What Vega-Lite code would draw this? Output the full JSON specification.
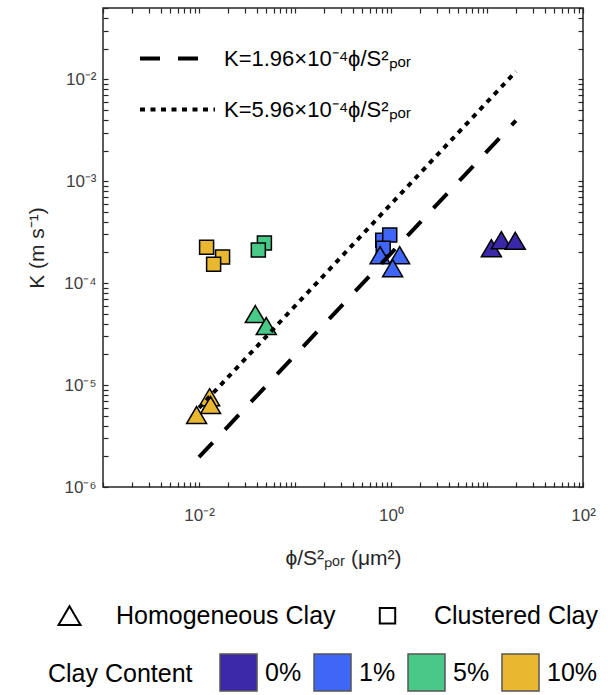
{
  "$schema": "https://vega.github.io/schema/vega-lite/v6.json",
  "width": 480,
  "height": 479,
  "autosize": "none",
  "padding": {"left": 103, "top": 8, "right": 25, "bottom": 208},
  "config": {
    "font": "Liberation Sans",
    "view": {"stroke": "#262626", "strokeWidth": 1.5},
    "axis": {
      "domain": false,
      "grid": false,
      "tickColor": "#262626",
      "tickWidth": 1.2,
      "tickSize": -5,
      "labelFont": "Liberation Sans",
      "labelFontSize": 17,
      "labelColor": "#404040",
      "labelOverlap": false,
      "labelFlush": false,
      "titleFont": "Liberation Sans",
      "titleFontSize": 21,
      "titleFontWeight": "normal",
      "titleColor": "#262626"
    },
    "legend": {
      "labelFont": "Liberation Sans",
      "titleFont": "Liberation Sans",
      "labelColor": "#000000",
      "titleColor": "#000000",
      "labelLimit": 500,
      "padding": 0
    }
  },
  "datasets": {
    "points": [
      {"x": 0.82, "y": 0.000264, "type": "Clustered Clay", "clay": "1%"},
      {"x": 0.97, "y": 0.000296, "type": "Clustered Clay", "clay": "1%"},
      {"x": 0.83, "y": 0.00022, "type": "Clustered Clay", "clay": "1%"},
      {"x": 0.048, "y": 0.000247, "type": "Clustered Clay", "clay": "5%"},
      {"x": 0.0415, "y": 0.000211, "type": "Clustered Clay", "clay": "5%"},
      {"x": 0.012, "y": 0.000225, "type": "Clustered Clay", "clay": "10%"},
      {"x": 0.0176, "y": 0.00018, "type": "Clustered Clay", "clay": "10%"},
      {"x": 0.0142, "y": 0.000153, "type": "Clustered Clay", "clay": "10%"},
      {"x": 11.1, "y": 0.00022, "type": "Homogeneous Clay", "clay": "0%"},
      {"x": 14.1, "y": 0.000264, "type": "Homogeneous Clay", "clay": "0%"},
      {"x": 19.7, "y": 0.00026, "type": "Homogeneous Clay", "clay": "0%"},
      {"x": 0.77, "y": 0.000188, "type": "Homogeneous Clay", "clay": "1%"},
      {"x": 1.23, "y": 0.000188, "type": "Homogeneous Clay", "clay": "1%"},
      {"x": 1.04, "y": 0.00014, "type": "Homogeneous Clay", "clay": "1%"},
      {"x": 0.0386, "y": 0.0000497, "type": "Homogeneous Clay", "clay": "5%"},
      {"x": 0.0502, "y": 0.0000379, "type": "Homogeneous Clay", "clay": "5%"},
      {"x": 0.0129, "y": 0.0000076, "type": "Homogeneous Clay", "clay": "10%"},
      {"x": 0.0132, "y": 0.00000637, "type": "Homogeneous Clay", "clay": "10%"},
      {"x": 0.00944, "y": 0.00000508, "type": "Homogeneous Clay", "clay": "10%"}
    ],
    "lines": [
      {"x": 0.01, "y": 0.00000196, "label": "K=1.96×10⁻⁴ϕ/S²ₚₒᵣ"},
      {"x": 20, "y": 0.00392, "label": "K=1.96×10⁻⁴ϕ/S²ₚₒᵣ"},
      {"x": 0.01, "y": 0.00000596, "label": "K=5.96×10⁻⁴ϕ/S²ₚₒᵣ"},
      {"x": 20, "y": 0.01192, "label": "K=5.96×10⁻⁴ϕ/S²ₚₒᵣ"}
    ]
  },
  "layer": [
    {
      "data": {"name": "points"},
      "mark": {"type": "point", "filled": true, "stroke": "black", "strokeWidth": 1.5, "opacity": 1, "size": 400},
      "encoding": {
        "x": {
          "field": "x", "type": "quantitative",
          "scale": {"type": "log", "domain": [0.001, 100], "nice": false, "zero": false},
          "axis": {
            "orient": "bottom",
            "title": "ϕ/S²ₚₒᵣ (μm²)",
            "titlePadding": 24,
            "values": [0.001,0.002,0.003,0.004,0.005,0.006,0.007,0.008,0.009,0.01,0.02,0.03,0.04,0.05,0.06,0.07,0.08,0.09,0.1,0.2,0.3,0.4,0.5,0.6,0.7,0.8,0.9,1,2,3,4,5,6,7,8,9,10,20,30,40,50,60,70,80,90,100],
            "labelPadding": 25,
            "labelExpr": "abs(log(datum.value)/LN10 - round(log(datum.value)/LN10)) < 1e-6 && round(log(datum.value)/LN10) % 2 == 0 ? (round(log(datum.value)/LN10) == -2 ? '10⁻²' : round(log(datum.value)/LN10) == 0 ? '10⁰' : '10²') : ''"
          }
        },
        "y": {
          "field": "y", "type": "quantitative",
          "scale": {"type": "log", "domain": [0.000001, 0.05], "nice": false, "zero": false},
          "axis": {
            "orient": "left",
            "title": "K (m s⁻¹)",
            "titlePadding": 16,
            "values": [0.000001,0.000002,0.000003,0.000004,0.000005,0.000006,0.000007,0.000008,0.000009,0.00001,0.00002,0.00003,0.00004,0.00005,0.00006,0.00007,0.00008,0.00009,0.0001,0.0002,0.0003,0.0004,0.0005,0.0006,0.0007,0.0008,0.0009,0.001,0.002,0.003,0.004,0.005,0.006,0.007,0.008,0.009,0.01,0.02,0.03,0.04,0.05],
            "labelPadding": 12,
            "labelExpr": "abs(log(datum.value)/LN10 - round(log(datum.value)/LN10)) < 1e-6 ? (round(log(datum.value)/LN10) == -6 ? '10⁻⁶' : round(log(datum.value)/LN10) == -5 ? '10⁻⁵' : round(log(datum.value)/LN10) == -4 ? '10⁻⁴' : round(log(datum.value)/LN10) == -3 ? '10⁻³' : '10⁻²') : ''"
          }
        },
        "shape": {
          "field": "type", "type": "nominal",
          "scale": {"domain": ["Homogeneous Clay", "Clustered Clay"], "range": ["M0,-0.85L1,0.85L-1,0.85Z", "M-0.7,-0.7L0.7,-0.7L0.7,0.7L-0.7,0.7Z"]},
          "legend": {
            "orient": "none", "legendX": -46, "legendY": 595,
            "direction": "horizontal", "title": null,
            "symbolSize": 484, "symbolStrokeColor": "black", "symbolStrokeWidth": 2, "symbolFillColor": "transparent",
            "labelFontSize": 25, "labelOffset": 34, "columnPadding": 39,
            "encode": {"symbols": {"update": {"fill": {"value": "transparent"}, "stroke": {"value": "black"}, "strokeWidth": {"value": 2}}}}
          }
        },
        "color": {
          "field": "clay", "type": "nominal",
          "scale": {"domain": ["0%", "1%", "5%", "10%"], "range": ["#3B28A8", "#3F66F7", "#48C988", "#EAB830"]},
          "legend": {
            "orient": "none", "legendX": -55, "legendY": 645,
            "direction": "horizontal", "title": "Clay Content",
            "titleOrient": "left", "titleFontSize": 25, "titleFontWeight": "normal", "titlePadding": 26, "titleBaseline": "middle",
            "symbolType": "square", "symbolSize": 1369, "symbolStrokeColor": "#555555", "symbolStrokeWidth": 1.5,
            "labelFontSize": 25, "labelOffset": 7, "columnPadding": 9,
            "encode": {"symbols": {"update": {"shape": {"value": "square"}, "stroke": {"value": "#555555"}, "strokeWidth": {"value": 1.5}}}}
          }
        }
      }
    },
    {
      "data": {"name": "lines"},
      "mark": {"type": "line", "stroke": "black", "strokeWidth": 4, "strokeCap": "butt"},
      "encoding": {
        "x": {
          "field": "x", "type": "quantitative",
          "axis": {
            "orient": "top", "title": null, "labels": false,
            "values": [0.001,0.002,0.003,0.004,0.005,0.006,0.007,0.008,0.009,0.01,0.02,0.03,0.04,0.05,0.06,0.07,0.08,0.09,0.1,0.2,0.3,0.4,0.5,0.6,0.7,0.8,0.9,1,2,3,4,5,6,7,8,9,10,20,30,40,50,60,70,80,90,100]
          }
        },
        "y": {
          "field": "y", "type": "quantitative",
          "axis": {
            "orient": "right", "title": null, "labels": false,
            "values": [0.000001,0.000002,0.000003,0.000004,0.000005,0.000006,0.000007,0.000008,0.000009,0.00001,0.00002,0.00003,0.00004,0.00005,0.00006,0.00007,0.00008,0.00009,0.0001,0.0002,0.0003,0.0004,0.0005,0.0006,0.0007,0.0008,0.0009,0.001,0.002,0.003,0.004,0.005,0.006,0.007,0.008,0.009,0.01,0.02,0.03,0.04,0.05]
          }
        },
        "strokeDash": {
          "field": "label", "type": "nominal",
          "scale": {"domain": ["K=1.96×10⁻⁴ϕ/S²ₚₒᵣ", "K=5.96×10⁻⁴ϕ/S²ₚₒᵣ"], "range": [[20, 18], [5, 5.5]]},
          "legend": {
            "orient": "none", "legendX": 35, "legendY": 11,
            "direction": "vertical", "title": null,
            "symbolType": "stroke", "symbolSize": 5625, "symbolStrokeWidth": 4, "symbolStrokeColor": "black",
            "labelFontSize": 22, "labelOffset": 7, "rowPadding": -24
          }
        }
      }
    }
  ],
  "resolve": {"axis": {"x": "independent", "y": "independent"}}
}
